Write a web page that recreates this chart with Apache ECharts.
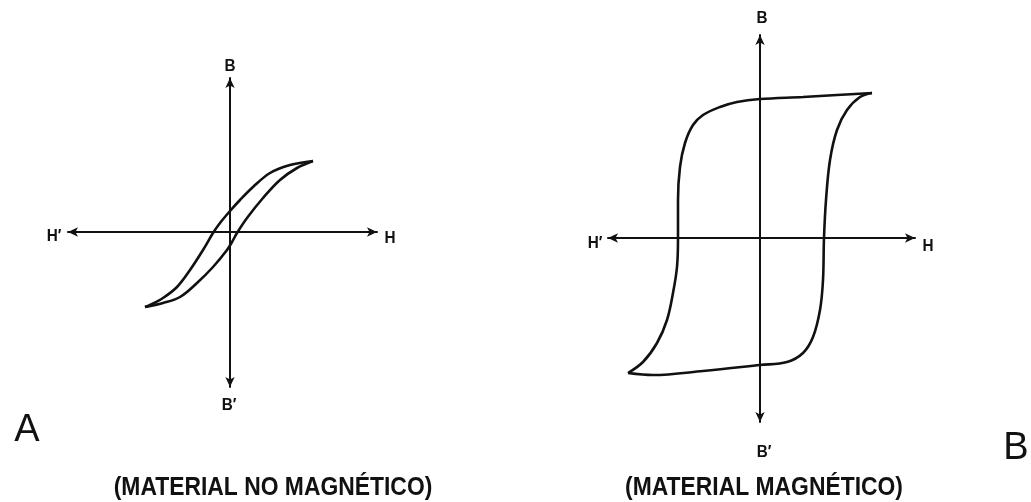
<!DOCTYPE html>
<html>
<head>
<meta charset="utf-8">
<script src="https://cdn.jsdelivr.net/npm/echarts@6/dist/echarts.min.js"></script>
<style>
html,body{margin:0;padding:0;background:#fff;}
#chart{width:1031px;height:502px;}
</style>
</head>
<body>
<div id="chart"></div>
<script>

// =====================================================
// DONNEES (H, B)
// =====================================================

// A : material no magnético (bucle estrecho)
const leftUpper = [
  [83,71],[60,67],[40,59],[23,45],[10,32],[0,21],[-10,9],
  [-17,-1],[-27,-18],[-40,-38],[-53,-55],[-67,-66],[-80,-73],[-85,-75]
];
const leftLower = [
  [-85,-75],[-67,-71],[-50,-65],[-33,-51],[-17,-35],[-3,-18],
  [2,-10],[7,-1],[17,14],[33,34],[50,52],[67,64],[83,71]
];

// B : material magnético (bucle ancho)
const rightUpper = [
  [112,145],[77,143],[43,141],[0,139],[-23,136],[-40,131],
  [-57,123],[-67,113],[-75,95],[-80,71],[-82,38],[-82,0],
  [-83,-29],[-87,-55],[-93,-82],[-103,-105],[-117,-124],[-132,-135]
];
const rightLower = [
  [-132,-135],[-107,-137],[-57,-133],[0,-127],[27,-124],[43,-115],
  [53,-99],[60,-72],[63,-42],[64,0],[66,38],[70,78],
  [77,108],[87,128],[100,141],[112,145]
];

// limites des axes [Hmin, Hmax, Bmin, Bmax]
const leftRange = [-162,147,-155,154];
const rightRange = [-152,155,-184,203];

const axisNames = ["H", "H′", "B", "B′"];
const captions = ["(MATERIAL NO MAGNÉTICO)", "(MATERIAL MAGNÉTICO)"];
const panelLetters = ["A", "B"];


// =====================================================
// AXES
// =====================================================

const INK = "#111";

function axisLine(){
  return {
    onZero:true,
    symbol:["arrow","arrow"],
    symbolSize:[7,10],
    lineStyle:{color:INK,width:2}
  };
}

function makeAxis(gridIndex,min,max){
  return {
    type:"value",
    gridIndex:gridIndex,
    min:min,
    max:max,
    axisLine:axisLine(),
    axisTick:{show:false},
    axisLabel:{show:false},
    splitLine:{show:false}
  };
}

function loop(idx,data){
  return {
    type:"line",
    xAxisIndex:idx,
    yAxisIndex:idx,
    data:data,
    smooth:0.35,
    showSymbol:false,
    silent:true,
    lineStyle:{color:INK,width:2.6}
  };
}

// texte centré, avec compression horizontale optionnelle
function label(text,x,y,font,sx){
  return {
    type:"text",
    silent:true,
    x:x,
    y:y,
    scaleX:sx || 1,
    style:{
      text:text,
      x:0,
      y:0,
      fill:INK,
      font:font,
      align:"center",
      verticalAlign:"middle"
    }
  };
}

const axisFont = "bold 17px 'Liberation Sans', Arial, sans-serif";
const capFont = "bold 26px 'Liberation Sans', Arial, sans-serif";
const letterFont = "38px 'Liberation Sans', Arial, sans-serif";


// =====================================================
// GRAPHIQUE
// =====================================================

const chart = echarts.init(document.getElementById("chart"));

chart.setOption({
  backgroundColor:"#fff",
  animation:false,
  grid:[
    {left:68,top:78,width:309,height:309},
    {left:608,top:35,width:307,height:387}
  ],
  xAxis:[
    makeAxis(0,leftRange[0],leftRange[1]),
    makeAxis(1,rightRange[0],rightRange[1])
  ],
  yAxis:[
    makeAxis(0,leftRange[2],leftRange[3]),
    makeAxis(1,rightRange[2],rightRange[3])
  ],
  series:[
    loop(0,leftUpper),
    loop(0,leftLower),
    loop(1,rightUpper),
    loop(1,rightLower)
  ],
  graphic:[
    label(axisNames[0],390,238,axisFont,0.9),
    label(axisNames[1],54,236,axisFont,0.9),
    label(axisNames[2],230,66,axisFont,0.9),
    label(axisNames[3],229,405,axisFont,0.9),

    label(axisNames[0],928,246,axisFont,0.9),
    label(axisNames[1],595,243,axisFont,0.9),
    label(axisNames[2],762,18,axisFont,0.9),
    label(axisNames[3],764,452,axisFont,0.9),

    label(captions[0],273,488,capFont,0.88),
    label(captions[1],764,488,capFont,0.88),

    label(panelLetters[0],27,431,letterFont),
    label(panelLetters[1],1016,449,letterFont)
  ]
});

window.addEventListener("resize",()=>chart.resize());

</script>
</body>
</html>
